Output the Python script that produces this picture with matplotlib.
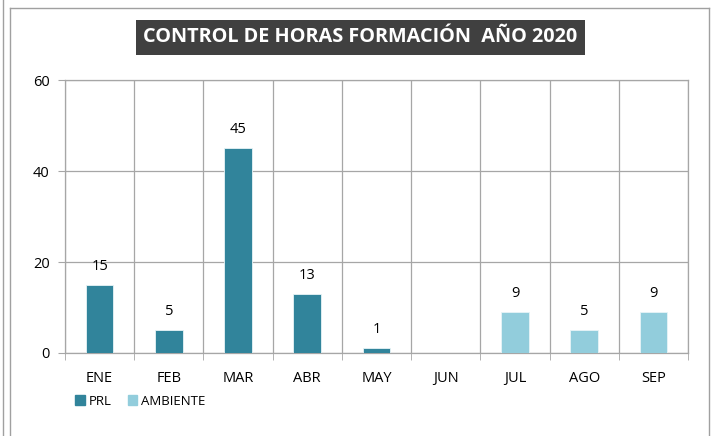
import matplotlib
matplotlib.use("Agg")
import matplotlib.pyplot as plt
from matplotlib.patches import Rectangle
from matplotlib.lines import Line2D
from matplotlib.ticker import FixedLocator
import numpy as np

months = ["ENE", "FEB", "MAR", "ABR", "MAY", "JUN", "JUL", "AGO", "SEP"]
prl = [15, 5, 45, 13, 1, None, None, None, None]
ambiente = [None, None, None, None, None, None, 9, 5, 9]
series_names = ["PRL", "AMBIENTE"]
title = "CONTROL DE HORAS FORMACIÓN  AÑO 2020"
yticks = [0, 20, 40, 60]

C_PRL = "#31849B"
C_AMB = "#92CDDC"
GRID = "#A6A6A6"

W, H = 713, 436
fig = plt.figure(figsize=(W / 100, H / 100), dpi=100)
plt.rcParams["font.family"] = ["Open Sans", "DejaVu Sans"]

# plot area in pixels
L, R, T, B = 65, 688, 80, 353
ax = fig.add_axes([L / W, 1 - B / H, (R - L) / W, (B - T) / H])

x = np.arange(len(months))
bw = 0.4
for vals, col in ((prl, C_PRL), (ambiente, C_AMB)):
    xs = [xi for xi, v in zip(x, vals) if v is not None]
    vs = [v for v in vals if v is not None]
    ax.bar(xs, vs, width=bw, color=col, edgecolor="#E8F4F7", linewidth=0.6, zorder=3)
    for xi, v in zip(xs, vs):
        ax.annotate(str(v), (xi, v), xytext=(0, 8), textcoords="offset points",
                    ha="center", va="bottom", fontsize=10.5, color="#000000")

ax.set_xlim(-0.5, len(months) - 0.5)
ax.set_ylim(0, 60)
ax.set_yticks(yticks)
ax.set_xticks(x)
ax.set_xticklabels(months, fontsize=10.5)
ax.tick_params(axis="x", length=0, pad=13)
ax.tick_params(axis="y", length=5, color=GRID, labelsize=10.5, pad=6)
ax.xaxis.set_minor_locator(FixedLocator(np.arange(-0.5, len(months), 1)))
ax.tick_params(axis="x", which="minor", length=5, color=GRID, direction="out")
ax.grid(True, axis="y", which="major", color=GRID, linewidth=0.9, zorder=0)
ax.grid(True, axis="x", which="minor", color=GRID, linewidth=0.9, zorder=0)
for s in ax.spines.values():
    s.set_color(GRID)
    s.set_linewidth(0.9)

# title box
bx0, bx1, by0, by1 = 136, 585, 20, 55
fig.add_artist(Rectangle((bx0 / W, 1 - by1 / H), (bx1 - bx0) / W, (by1 - by0) / H,
                         facecolor="#404040", edgecolor="none", transform=fig.transFigure, zorder=9))
fig.text(0.5 * (bx0 + bx1) / W, 1 - 0.5 * (by0 + by1) / H, title, ha="center", va="center",
         fontsize=14.3, fontweight="bold", color="white", zorder=10)

# legend
handles = [Rectangle((0, 0), 1, 1, color=C_PRL), Rectangle((0, 0), 1, 1, color=C_AMB)]
fig.legend(handles, series_names, loc="center left", bbox_to_anchor=(75 / W, 1 - 401 / H),
           ncol=2, frameon=False, fontsize=9.5, handlelength=0.75, handleheight=0.75,
           handletextpad=0.3, columnspacing=1.2, borderaxespad=0, borderpad=0)

# chart frame
fig.add_artist(Line2D([10 / W, 10 / W], [0, 1 - 8 / H], color="#A0A0A0", lw=1))
fig.add_artist(Line2D([10 / W, 709 / W], [1 - 8 / H, 1 - 8 / H], color="#A0A0A0", lw=1))
fig.add_artist(Line2D([709 / W, 709 / W], [0, 1 - 8 / H], color="#A0A0A0", lw=1))
fig.add_artist(Line2D([2.5 / W, 2.5 / W], [0, 1], color="#A0A0A0", lw=1))

fig.savefig("out.png", dpi=100)
